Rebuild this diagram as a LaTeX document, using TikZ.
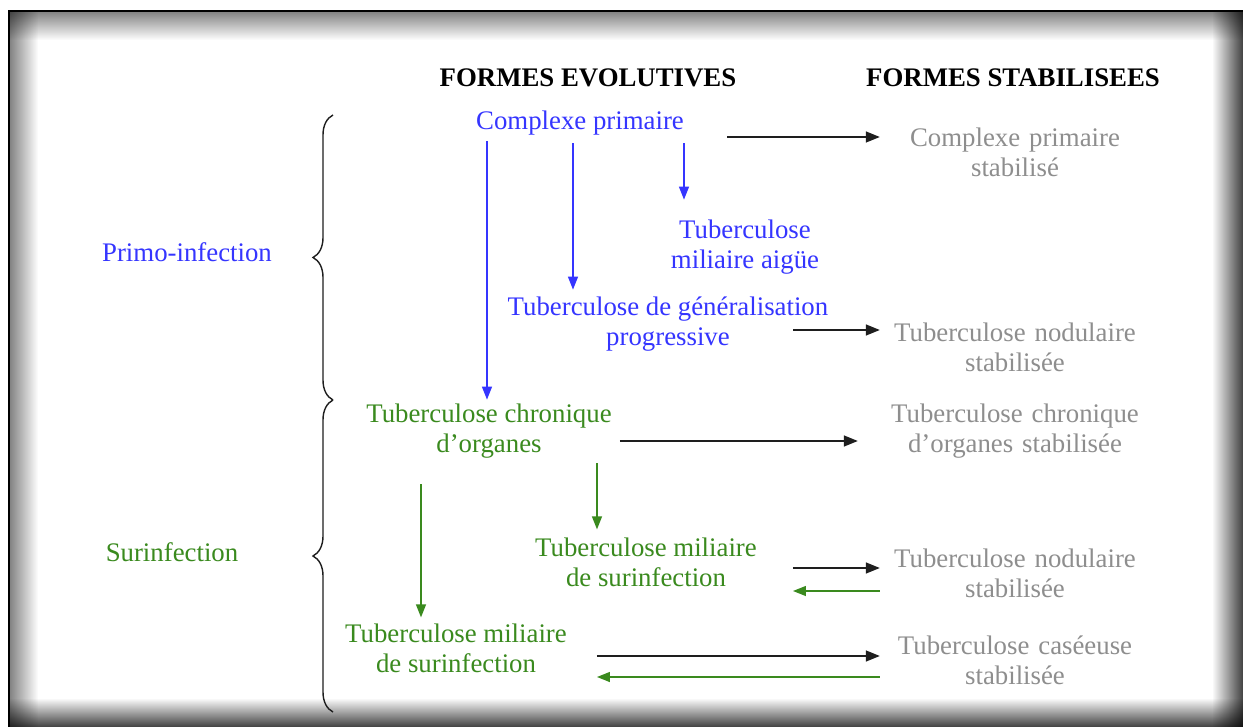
\documentclass[tikz,border=0pt]{standalone}
\usepackage{fontspec}
\setmainfont{Liberation Serif}
\usepackage{xcolor}
\usepackage{tikz}
\usetikzlibrary{arrows.meta,decorations.pathreplacing,fadings}
\definecolor{evolBlue}{HTML}{3535FF}
\definecolor{surGreen}{HTML}{3A8A1E}
\definecolor{stabGray}{HTML}{8E8E8E}
\definecolor{arrowBlack}{HTML}{1E1E1E}

\begin{document}
\begin{tikzpicture}[x=1pt,y=-1pt,
every node/.style={font=\fontsize{26.8}{30}\selectfont,inner sep=0pt},
header/.style={font=\fontsize{26.8}{30}\selectfont\bfseries},
blueText/.style={text=evolBlue,align=center},
greenText/.style={text=surGreen,align=center},
stabText/.style={text=stabGray,align=center,text width=260pt},
blkArrow/.style={-{Triangle[length=14pt,width=11pt]},line width=1.4pt,draw=arrowBlack},
blueArrow/.style={-{Triangle[length=13pt,width=10pt]},line width=1.4pt,draw=evolBlue},
greenArrow/.style={-{Triangle[length=13pt,width=10pt]},line width=1.4pt,draw=surGreen},
braceLine/.style={decorate,decoration={brace,amplitude=20pt},line width=1.4pt,draw=arrowBlack},
shadowStrip/.style={fill=black,fill opacity=#1}
]
\useasboundingbox (0,0) rectangle (1243,727);
% frame with inner shadow
\fill[white] (0,0) rectangle (1243,727);
\fill[shadowStrip=.5,path fading=south] (9,11) rectangle (1243,40);
\fill[shadowStrip=.5,path fading=east] (9,11) rectangle (38,727);
\fill[shadowStrip=.75,path fading=west] (1212,11) rectangle (1243,727);
\fill[shadowStrip=.75,path fading=north] (9,698) rectangle (1243,727);
\draw[line width=2.5pt,black] (9,727) -- (9,11) -- (1243,11);

% headers
\node[header] (hEvol) at (588,78) {FORMES EVOLUTIVES};
\node[header] (hStab) at (1013,78) {FORMES STABILISEES};

% left labels and braces
\node[text=evolBlue] (primo) at (187,252) {Primo-infection};
\node[text=surGreen] (surinf) at (172,552) {Surinfection};
\draw[braceLine] (333,400) -- (333,115);
\draw[braceLine] (333,712) -- (333,400);

% evolutive forms
\node[blueText] (cp) at (580,123) {Complexe primaire};
\node[blueText] (tma) at (745,247) {Tuberculose\\miliaire aigüe};
\node[blueText] (tgp) at (668,324) {Tuberculose de généralisation\\progressive};
\node[greenText] (tco) at (489,431) {Tuberculose chronique\\d’organes};
\node[greenText] (tms1) at (646,562) {Tuberculose miliaire\\de surinfection};
\node[greenText] (tms2) at (456,648) {Tuberculose miliaire\\de surinfection};

% stabilised forms
\node[stabText] (cpS) at (1015,152) {Complexe primaire\\stabilisé};
\node[stabText] (tnS1) at (1015,347) {Tuberculose nodulaire\\stabilisée};
\node[stabText] (tcoS) at (1015,431) {Tuberculose chronique\\d’organes stabilisée};
\node[stabText] (tnS2) at (1015,573) {Tuberculose nodulaire\\stabilisée};
\node[stabText] (tcaS) at (1015,660) {Tuberculose caséeuse\\stabilisée};

% vertical arrows
\draw[blueArrow] ([xshift=-93pt,yshift=-6pt]cp.south) -- ([xshift=-93pt,yshift=4pt]cp.south |- tco.north);
\draw[blueArrow] ([xshift=-7pt,yshift=-8pt]cp.south) -- ([xshift=-7pt,yshift=7pt]cp.south |- tgp.north);
\draw[blueArrow] ([xshift=104pt,yshift=-8pt]cp.south) -- ([xshift=104pt,yshift=20pt]cp.south |- tma.north);
\draw[greenArrow] ([xshift=108pt,yshift=-5pt]tco.south) -- ([xshift=108pt,yshift=8pt]tco.south |- tms1.north);
\draw[greenArrow] ([xshift=-68pt,yshift=-26pt]tco.south) -- ([xshift=-68pt,yshift=6pt]tco.south |- tms2.north);

% horizontal arrows
\draw[blkArrow] ([shift={(43,14)}]cp.east) -- ([shift={(-5,-15)}]cpS.west);
\draw[blkArrow] ([shift={(-35,6)}]tgp.east) -- ([shift={(-5,-17)}]tnS1.west);
\draw[blkArrow] ([shift={(8,10)}]tco.east) -- ([shift={(-27,10)}]tcoS.west);
\draw[blkArrow] ([shift={(36,6)}]tms1.east) -- ([shift={(-5,-5)}]tnS2.west);
\draw[greenArrow] ([shift={(-5,18)}]tnS2.west) -- ([shift={(36,29)}]tms1.east);
\draw[blkArrow] ([shift={(30,8)}]tms2.east) -- ([shift={(-5,-4)}]tcaS.west);
\draw[greenArrow] ([shift={(-5,17)}]tcaS.west) -- ([shift={(30,29)}]tms2.east);
\end{tikzpicture}
\end{document}
